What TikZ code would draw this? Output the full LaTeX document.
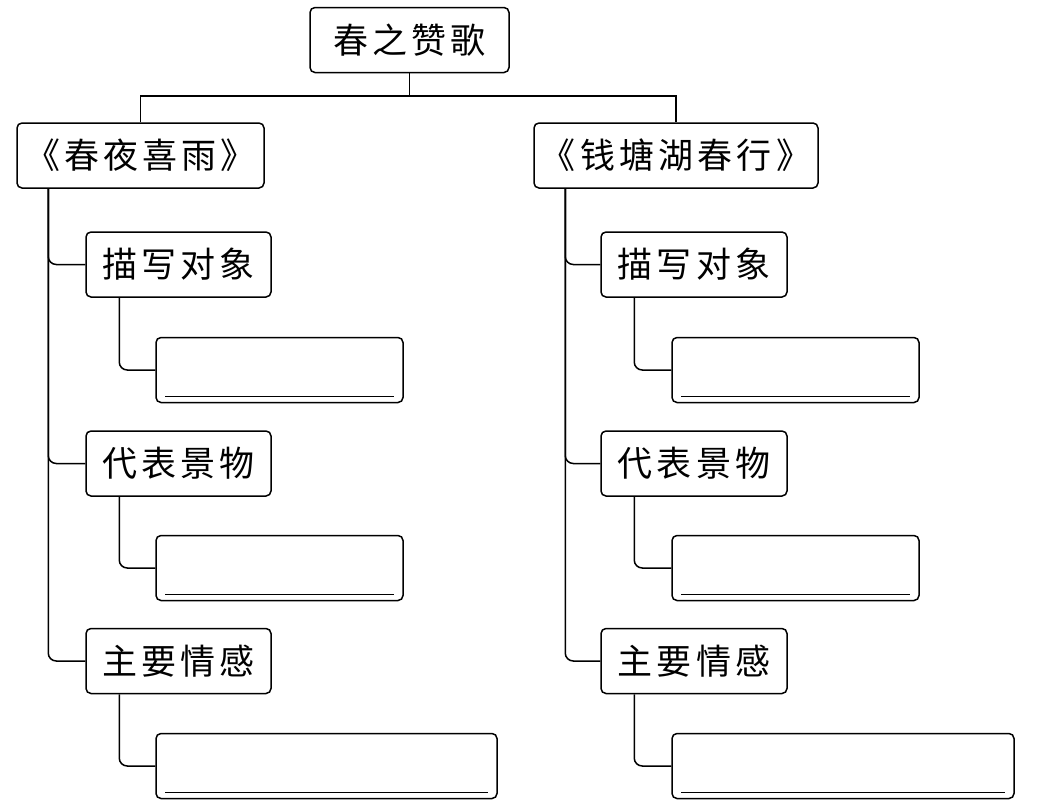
\documentclass[tikz,border=0pt]{standalone}
\usepackage{fontspec}
\newfontfamily\cjk[LetterSpace=12]{Noto Sans CJK SC}
\begin{document}
\begin{tikzpicture}[x=1pt,y=-1pt,line width=1.5pt]
	\tikzstyle{box} = [draw,rounded corners=5pt,inner sep=0pt,minimum height=65pt,font=\cjk\fontsize{35pt}{35pt}\selectfont]
	\tikzstyle{answer} = [box,minimum width=247pt]
	\useasboundingbox (0,0) rectangle (1047,809);
	% title and the two poems
	\node[box,minimum width=199pt](song)at(409.5,40){春之赞歌};
	\node[box,minimum width=247pt](poemA)at(140.5,155.5){《春夜喜雨》};
	\node[box,minimum width=284pt](poemB)at(676,155.5){《钱塘湖春行》};
	\coordinate(bar)at(0,96);
	\draw (song.south) -- (song.south |- bar);
	\draw (poemA.north) -- (poemA.north |- bar) -- (poemB.north |- bar) -- (poemB.north);
	% left column
	\node[box,minimum width=185pt](objA)at(178.5,264.5){描写对象};
	\node[answer](objAns)at(279.5,370){};
	\node[box,minimum width=185pt](sceneA)at(178.5,463.5){代表景物};
	\node[answer](sceneAns)at(279.5,568){};
	\node[box,minimum width=185pt](feelA)at(178.5,661){主要情感};
	\node[answer,minimum width=341pt](feelAns)at(326.5,766){};
	% right column
	\node[box,minimum width=186pt](objB)at(694,264.5){描写对象};
	\node[answer](objBns)at(795.5,370){};
	\node[box,minimum width=186pt](sceneB)at(694,463.5){代表景物};
	\node[answer](sceneBns)at(795.5,568){};
	\node[box,minimum width=186pt](feelB)at(694,661){主要情感};
	\node[answer,minimum width=342pt](feelBns)at(843,766){};
	% spines
	\foreach \p/\a/\b/\c in {poemA/objA/sceneA/feelA,poemB/objB/sceneB/feelB}{
		\coordinate(spine)at([xshift=32pt]\p.south west);
		\draw[rounded corners=8pt] (spine) |- (\a.west);
		\draw[rounded corners=8pt] (spine) |- (\b.west);
		\draw[rounded corners=8pt] (spine) |- (\c.west);
	}
	% item to answer
	\foreach \s/\t in {objA/objAns,sceneA/sceneAns,feelA/feelAns,objB/objBns,sceneB/sceneBns,feelB/feelBns}{
		\draw[rounded corners=8pt] ([xshift=34pt]\s.south west) |- (\t.west);
		\draw ([xshift=10pt,yshift=7pt]\t.south west) -- ([xshift=-10pt,yshift=7pt]\t.south east);
	}
\end{tikzpicture}
\end{document}
